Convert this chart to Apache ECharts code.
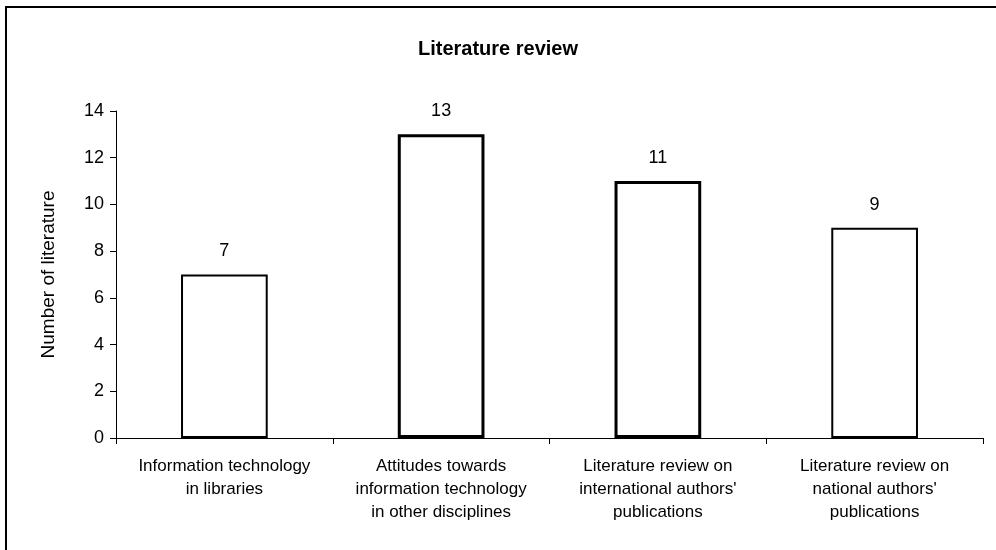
<!DOCTYPE html>
<html>
<head>
<meta charset="utf-8">
<script src="https://cdn.jsdelivr.net/npm/echarts@6/dist/echarts.min.js"></script>
<style>
  html, body { margin: 0; padding: 0; background: #fff; }
  #chart { width: 996px; height: 550px; }
</style>
</head>
<body>
<div id="chart"></div>
<script>
'use strict';

// 数据
const categories = [
    'Information technology\nin libraries',
    'Attitudes towards\ninformation technology\nin other disciplines',
    'Literature review on\ninternational authors\'\npublications',
    'Literature review on\nnational authors\'\npublications'
];
const literatureCounts = [7, 13, 11, 9];
const yTicks = [0, 2, 4, 6, 8, 10, 12, 14];

// 扫描图里中间两根柱子的边框更粗
const borderWidths = [2, 3, 3, 2];

const FONT = '"Liberation Sans", Arial, sans-serif';

const myChart = echarts.init(document.getElementById('chart'));

const option = {
    backgroundColor: '#fff',
    animation: false,
    title: {
        text: 'Literature review',
        left: 'center',
        top: 34,
        textStyle: { fontFamily: FONT, fontSize: 20, fontWeight: 'bold', color: '#000' }
    },
    grid: { left: 116, right: 13, top: 111, bottom: 112 },
    xAxis: {
        type: 'category',
        data: categories,
        axisLine: { lineStyle: { color: '#000', width: 1 } },
        axisTick: { show: true, alignWithLabel: false, length: 6, lineStyle: { color: '#000' } },
        axisLabel: {
            interval: 0,
            margin: 17,
            fontFamily: FONT,
            fontSize: 17,
            lineHeight: 23,
            color: '#000'
        }
    },
    yAxis: {
        type: 'value',
        min: yTicks[0],
        max: yTicks[yTicks.length - 1],
        interval: 2,
        name: 'Number of literature',
        nameLocation: 'middle',
        nameGap: 58,
        nameTextStyle: { fontFamily: FONT, fontSize: 19, color: '#000' },
        axisLine: { show: true, lineStyle: { color: '#000', width: 1 } },
        axisTick: { show: true, length: 6, lineStyle: { color: '#000' } },
        axisLabel: { margin: 12, fontFamily: FONT, fontSize: 18, color: '#000' },
        splitLine: { show: false }
    },
    graphic: [{
        type: 'polyline',
        shape: { points: [[6, 550], [6, 7], [996, 7]] },
        style: { stroke: '#000', lineWidth: 2, fill: null }
    }],
    series: [{
        name: 'Number of literature',
        type: 'bar',
        barWidth: '40%',
        data: literatureCounts.map((v, i) => ({
            value: v,
            itemStyle: { borderWidth: borderWidths[i] }
        })),
        itemStyle: { color: '#fff', borderColor: '#000' },
        label: {
            show: true,
            position: 'top',
            distance: 14,
            fontFamily: FONT,
            fontSize: 18,
            color: '#000'
        }
    }]
};

myChart.setOption(option);
</script>
</body>
</html>
